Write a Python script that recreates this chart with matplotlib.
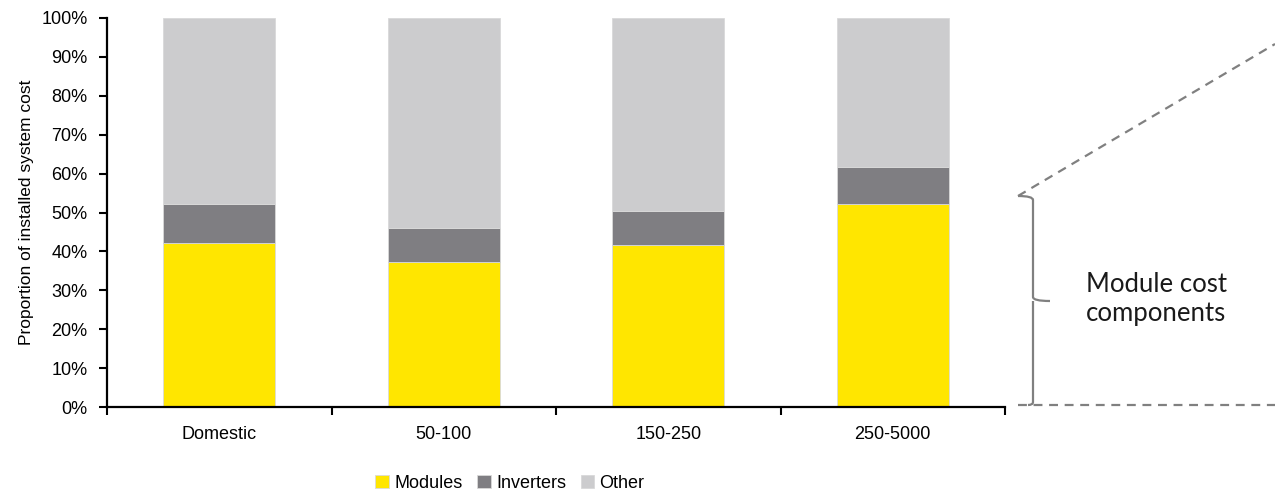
import matplotlib
matplotlib.use("Agg")
import matplotlib.pyplot as plt
from matplotlib.path import Path
from matplotlib.patches import PathPatch
from matplotlib.ticker import PercentFormatter

categories = ["Domestic", "50-100", "150-250", "250-5000"]
modules = [42.2, 37.3, 41.6, 52.2]
inverters = [9.9, 8.7, 8.8, 9.5]
other = [47.9, 54.0, 49.6, 38.3]
series_names = ["Modules", "Inverters", "Other"]
colors = ["#FFE600", "#7F7E82", "#CCCCCE"]
yticks = [0, 10, 20, 30, 40, 50, 60, 70, 80, 90, 100]

plt.rcParams['font.family'] = ['Liberation Sans', 'DejaVu Sans']

W, H = 1275, 492
fig = plt.figure(figsize=(W / 100, H / 100), dpi=100)
ax = fig.add_axes([107 / W, 1 - 407 / H, (1005 - 107) / W, (407 - 18) / H])

x = list(range(len(categories)))
bottom = [0.0] * len(categories)
for name, vals, c in zip(series_names, [modules, inverters, other], colors):
    ax.bar(x, vals, width=0.5, bottom=bottom, color=c, label=name,
           edgecolor="#d9d9d9", linewidth=0.6)
    bottom = [b + v for b, v in zip(bottom, vals)]

ax.set_xlim(-0.5, len(categories) - 0.5)
ax.set_ylim(0, 100)
ax.set_yticks(yticks)
ax.yaxis.set_major_formatter(PercentFormatter(decimals=0))
ax.set_xticks([i - 0.5 for i in range(len(categories) + 1)])
ax.set_xticklabels([])
ax.set_xticks(x, minor=True)
ax.set_xticklabels(categories, minor=True)
ax.tick_params(axis="x", which="major", direction="out", length=6, width=1.5)
ax.tick_params(axis="x", which="minor", length=0, pad=14, labelsize=13)
ax.tick_params(axis="y", direction="out", length=6, width=1.5, pad=8, labelsize=13)
for s in ["top", "right"]:
    ax.spines[s].set_visible(False)
for s in ["left", "bottom"]:
    ax.spines[s].set_linewidth(1.6)
ax.set_ylabel("Proportion of installed system cost", fontsize=12.5, labelpad=5)

fig.legend(loc="center", bbox_to_anchor=(510 / W, 1 - 483 / H), ncol=3,
           frameon=False, fontsize=13, handlelength=0.75, handleheight=0.75,
           handletextpad=0.3, columnspacing=0.8)

# annotation overlay in pixel coordinates
ov = fig.add_axes([0, 0, 1, 1], facecolor="none")
ov.set_xlim(0, W)
ov.set_ylim(H, 0)
ov.axis("off")
gray = "#808080"
ov.plot([1018, 1275], [405, 405], color=gray, lw=1.6, dashes=(4, 3))
ov.plot([1018, 1275], [196, 44], color=gray, lw=1.6, dashes=(4, 3))
verts = [(1018, 196), (1033, 196), (1033, 200),
         (1033, 297), (1033, 301), (1050, 301),
         (1033, 301), (1033, 305),
         (1033, 402), (1033, 405), (1028, 405)]
codes = [Path.MOVETO, Path.CURVE3, Path.CURVE3,
         Path.LINETO, Path.CURVE3, Path.CURVE3,
         Path.MOVETO, Path.LINETO,
         Path.LINETO, Path.CURVE3, Path.CURVE3]
ov.add_patch(PathPatch(Path(verts, codes), facecolor="none", edgecolor=gray, lw=1.6))
ov.text(1086, 299, "Module cost\ncomponents", fontsize=18.5, family=["Lato", "DejaVu Sans"],
        color="#1a1a1a", ha="left", va="center", linespacing=1.25)

fig.savefig("out.png", dpi=100)
